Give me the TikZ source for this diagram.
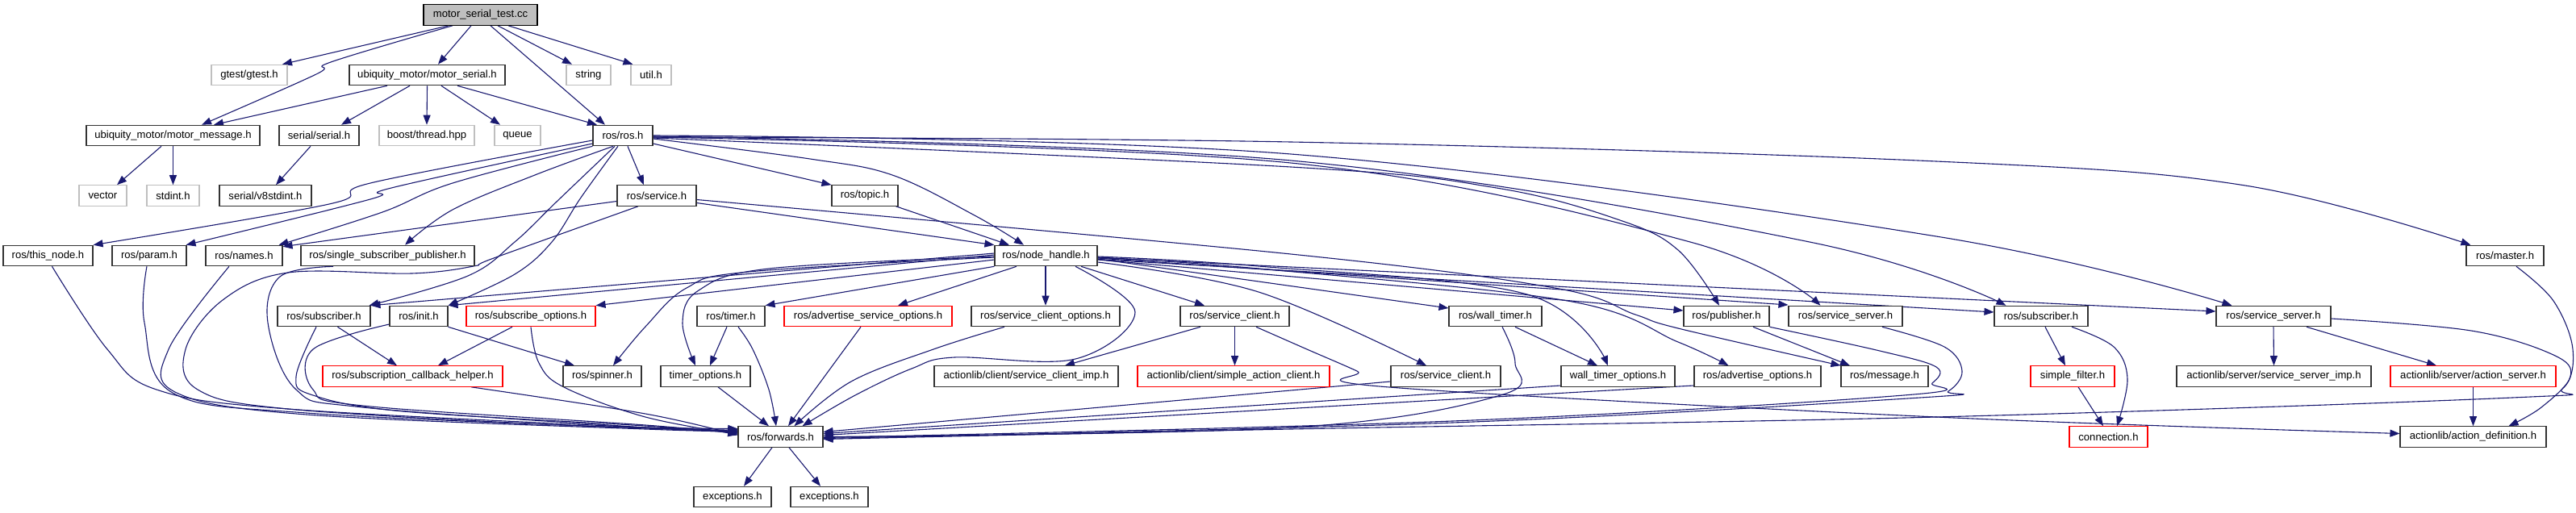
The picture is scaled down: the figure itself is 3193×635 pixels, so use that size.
\documentclass[tikz,border=0pt]{standalone}
\usepackage{fontspec}
\setmainfont{Liberation Sans}
\usetikzlibrary{arrows.meta}
\definecolor{edgec}{RGB}{25,25,112}
\newcommand\fs{\fontsize{13.1}{15}\selectfont}
\pgfdeclarelayer{bg}
\pgfsetlayers{bg,main}
\tikzset{
  nb/.style={draw=black!80, line width=1.1pt, fill=white, minimum height=25.5pt, inner sep=0pt, font=\fs},
  gb/.style={nb, draw=black!25},
  rb/.style={nb, draw=red},
  rootbox/.style={nb, draw=black, fill=black!25},
  e/.style={draw=edgec, line width=1.1pt, -{Triangle[length=12pt,width=9pt]}},
  sm/.style={smooth, tension=0.6}
}
\begin{document}
\begin{tikzpicture}[x=1pt,y=1pt]
\useasboundingbox (0,0) rectangle (3193,-635);
% row 0
\node[rootbox, minimum width=141pt] (test) at (595.5,-18.5) {motor\_serial\_test.cc};
% row 1
\node[gb, minimum width=94pt] (gtest) at (309,-93) {gtest/gtest.h};
\node[nb, minimum width=193pt] (mserial) at (529.5,-93) {ubiquity\_motor/motor\_serial.h};
\node[gb, minimum width=55pt] (string) at (729.5,-93) {string};
\node[gb, minimum width=50pt] (util) at (807,-93) {util.h};
% row 2
\node[nb, minimum width=215pt] (mmsg) at (214.5,-168) {ubiquity\_motor/motor\_message.h};
\node[nb, minimum width=99pt] (serial) at (395.5,-168) {serial/serial.h};
\node[gb, minimum width=118pt] (boost) at (529,-168) {boost/thread.hpp};
\node[gb, minimum width=57pt] (queue) at (641.5,-168) {queue};
\node[nb, minimum width=74pt] (ros) at (772,-168) {ros/ros.h};
% row 3
\node[gb, minimum width=59pt] (vector) at (127.5,-242.5) {vector};
\node[gb, minimum width=65pt] (stdint) at (214.5,-242.5) {stdint.h};
\node[nb, minimum width=114pt] (v8) at (329,-242.5) {serial/v8stdint.h};
\node[nb, minimum width=98pt] (service) at (814,-242.5) {ros/service.h};
\node[nb, minimum width=82pt] (topic) at (1072,-242.5) {ros/topic.h};
% row 4
\node[nb, minimum width=111pt] (thisnode) at (59.5,-317) {ros/this\_node.h};
\node[nb, minimum width=92pt] (param) at (185,-317) {ros/param.h};
\node[nb, minimum width=95pt] (names) at (302.5,-317) {ros/names.h};
\node[nb, minimum width=215pt] (sspub) at (480.5,-317) {ros/single\_subscriber\_publisher.h};
\node[nb, minimum width=127pt] (nh) at (1296.5,-317) {ros/node\_handle.h};
\node[nb, minimum width=96pt] (master) at (3105,-317) {ros/master.h};
% row 5
\node[nb, minimum width=115pt] (subL) at (401.5,-392) {ros/subscriber.h};
\node[nb, minimum width=72pt] (init) at (519,-392) {ros/init.h};
\node[rb, minimum width=160pt] (subopts) at (658,-392) {ros/subscribe\_options.h};
\node[nb, minimum width=84pt] (timer) at (906,-392) {ros/timer.h};
\node[rb, minimum width=208pt] (advsrvopts) at (1076,-392) {ros/advertise\_service\_options.h};
\node[nb, minimum width=184pt] (srvclopts) at (1296,-392) {ros/service\_client\_options.h};
\node[nb, minimum width=135pt] (sc1) at (1530.5,-392) {ros/service\_client.h};
\node[nb, minimum width=115pt] (walltimer) at (1853.5,-392) {ros/wall\_timer.h};
\node[nb, minimum width=106pt] (publisher) at (2140,-392) {ros/publisher.h};
\node[nb, minimum width=141pt] (ss1) at (2287.5,-392) {ros/service\_server.h};
\node[nb, minimum width=116pt] (sub2) at (2530,-392) {ros/subscriber.h};
\node[nb, minimum width=142pt] (ss2) at (2818,-392) {ros/service\_server.h};
% row 6
\node[rb, minimum width=223pt] (sch) at (511.5,-466.5) {ros/subscription\_callback\_helper.h};
\node[nb, minimum width=97pt] (spinner) at (746.5,-466.5) {ros/spinner.h};
\node[nb, minimum width=111pt] (timeropts) at (874.5,-466.5) {timer\_options.h};
\node[nb, minimum width=228pt] (scimp) at (1272,-466.5) {actionlib/client/service\_client\_imp.h};
\node[rb, minimum width=238pt] (sac) at (1529,-466.5) {actionlib/client/simple\_action\_client.h};
\node[nb, minimum width=136pt] (sc2) at (1792,-466.5) {ros/service\_client.h};
\node[nb, minimum width=141pt] (wto) at (2005.5,-466.5) {wall\_timer\_options.h};
\node[nb, minimum width=157pt] (advopts) at (2178.5,-466.5) {ros/advertise\_options.h};
\node[nb, minimum width=108pt] (message) at (2336,-466.5) {ros/message.h};
\node[rb, minimum width=104pt] (sfilter) at (2569,-466.5) {simple\_filter.h};
\node[nb, minimum width=241pt] (ssimp) at (2818.5,-466.5) {actionlib/server/service\_server\_imp.h};
\node[rb, minimum width=205pt] (aserver) at (3065.5,-466.5) {actionlib/server/action\_server.h};
% row 7
\node[nb, minimum width=105pt] (forwards) at (967.5,-541.5) {ros/forwards.h};
\node[rb, minimum width=97pt] (connection) at (2613.5,-541.5) {connection.h};
\node[nb, minimum width=181pt] (actdef) at (3065.5,-541.5) {actionlib/action\_definition.h};
% row 8
\node[nb, minimum width=96pt] (exc1) at (908,-616) {exceptions.h};
\node[nb, minimum width=96pt] (exc2) at (1028,-616) {exceptions.h};

\begin{pgfonlayer}{bg}
% root
\draw[e] ([xshift=-39.5pt]test.south) -- ([xshift=41pt]gtest.north);
\draw[e] plot[sm] coordinates {([xshift=-34.5pt]test.south) (410,-77) (392,-92) ([xshift=35.5pt]mmsg.north)};
\draw[e] ([xshift=-11.5pt]test.south) -- ([xshift=13.5pt]mserial.north);
\draw[e] ([xshift=12.5pt]test.south) -- ([xshift=-22pt]ros.north);
\draw[e] ([xshift=21.5pt]test.south) -- ([xshift=-20.5pt]string.north);
\draw[e] ([xshift=34.5pt]test.south) -- ([xshift=3pt]util.north west);
% motor_serial
\draw[e] ([xshift=-49.5pt]mserial.south) -- ([xshift=50.5pt]mmsg.north);
\draw[e] ([xshift=-21.5pt]mserial.south) -- ([xshift=27.5pt]serial.north);
\draw[e] (mserial.south) -- (boost.north);
\draw[e] ([xshift=17.5pt]mserial.south) -- ([xshift=-21.5pt]queue.north);
\draw[e] ([xshift=37.5pt]mserial.south) -- ([xshift=-32pt]ros.north);
\draw[e] ([xshift=-14.5pt]mmsg.south) -- ([xshift=17.5pt]vector.north);
\draw[e] (mmsg.south) -- (stdint.north);
\draw[e] ([xshift=-10.5pt]serial.south) -- ([xshift=13pt]v8.north);
% ros.h
\draw[e] plot[sm] coordinates {([yshift=-6pt]ros.west) (459,-227) (408,-253) (thisnode.north east)};
\draw[e] plot[sm] coordinates {([yshift=-10pt]ros.west) (485,-233) (459,-247) ([xshift=-1pt]param.north east)};
\draw[e] plot[sm] coordinates {(ros.south west) (561,-227) (474,-263) ([xshift=-5pt]names.north east)};
\draw[e] plot[sm] coordinates {([xshift=-12pt]ros.south) (663,-217) (561,-260) ([xshift=21.5pt]sspub.north)};
\draw[e] plot[sm] coordinates {([xshift=-10pt]ros.south) (690,-250) (638,-300) (580,-342) ([xshift=-2pt]subL.north east)};
\draw[e] plot[sm] coordinates {([xshift=-6pt]ros.south) (720,-245) (684,-300) (638,-340) (init.north east)};
\draw[e] ([xshift=6pt]ros.south) -- ([xshift=-16pt]service.north);
\draw[e] ([yshift=-10pt]ros.east) -- (topic.north west);
\draw[e] plot[sm] coordinates {([yshift=-4pt]ros.east) (1004,-197) (1106,-217) (1208,-267) ([xshift=-27.5pt]nh.north)};
\draw[e] plot[sm] coordinates {([yshift=-2pt]ros.east) (1600,-176) (2400,-200) (2783,-230) ([xshift=6pt]master.north west)};
\draw[e] plot[sm] coordinates {(ros.east) (1600,-191) (2400,-293) ([xshift=20pt]ss2.north west)};
\draw[e] plot[sm] coordinates {([yshift=-1pt]ros.east) (1600,-199) (2243,-300) ([xshift=15pt]sub2.north west)};
\draw[e] plot[sm] coordinates {([yshift=-2pt]ros.east) (1600,-202) (2095,-300) ([xshift=40pt]ss1.north west)};
\draw[e] plot[sm] coordinates {([yshift=-3pt]ros.east) (1600,-207) (1855,-233) (2008,-273) (2080,-310) ([xshift=-9pt]publisher.north)};
% service.h
\draw[e] ([yshift=-7pt]service.west) -- ([yshift=-2pt]names.north east);
\draw[e] ([yshift=-9pt]service.east) -- (nh.north west);
\draw[e] plot[sm] coordinates {([yshift=-5pt]service.east) (1600,-315) (1927,-357) (2027,-390) (2080,-407) (message.north west)};
\draw[e] plot[sm] coordinates {([xshift=-23pt]service.south) (612,-320) (587,-330) (510,-339) (357,-338) (276,-372) (230,-433) (245,-483) (357,-507) (700,-527) ([yshift=10pt]forwards.west)};
\draw[e] ([xshift=-3pt]topic.south east) -- ([xshift=-45.5pt]nh.north);
% into forwards from left
\draw[e] plot[sm] coordinates {([xshift=5pt]thisnode.south) (133,-433) (194,-483) (357,-507) (800,-530) ([yshift=9pt]forwards.west)};
\draw[e] plot[sm] coordinates {([xshift=-3pt]param.south) (179,-400) (214,-487) (380,-512) (800,-531) ([yshift=8pt]forwards.west)};
\draw[e] plot[sm] coordinates {([xshift=-18.5pt]names.south) (209,-433) (219,-487) (380,-514) (800,-532) ([yshift=7pt]forwards.west)};
\draw[e] plot[sm] coordinates {([xshift=-67.5pt]sspub.south) (347,-343) (332,-400) (367,-483) (450,-505) (800,-530) ([yshift=6pt]forwards.west)};
\draw[e] plot[sm] coordinates {([xshift=-9.5pt]subL.south) (367,-467) (388,-490) (500,-510) (800,-528) ([yshift=5pt]forwards.west)};
\draw[e] plot[sm] coordinates {([yshift=-10pt]init.west) (388,-433) (388,-483) (450,-503) (800,-527) ([yshift=4pt]forwards.west)};
\draw[e] plot[sm] coordinates {(subopts.south) (668,-450) (699,-480) (800,-517) ([yshift=3pt]forwards.west)};
\draw[e] plot[sm] coordinates {([xshift=72.5pt]sch.south) (800,-513) ([yshift=2pt]forwards.west)};
% into forwards from top
\draw[e] ([xshift=15.5pt]timeropts.south) -- ([xshift=-14.5pt]forwards.north);
\draw[e] plot[sm] coordinates {([xshift=9pt]timer.south) (933,-433) (953,-483) ([xshift=-5.5pt]forwards.north)};
\draw[e] ([xshift=-9pt]advsrvopts.south) -- ([xshift=9.5pt]forwards.north);
\draw[e] plot[sm] coordinates {([xshift=-51pt]srvclopts.south) (1157,-433) (1055,-473) ([xshift=17pt]forwards.north)};
\draw[e] plot[sm] coordinates {([xshift=36.5pt]nh.south) (1407,-387) (1333,-445) (1183,-443) (1130,-457) (1060,-490) ([xshift=27pt]forwards.north)};
% into forwards from right
\draw[e] ([yshift=-6.5pt]sc2.west) -- ([yshift=6pt]forwards.east);
\draw[e] ([yshift=-11.5pt]wto.west) -- ([yshift=4pt]forwards.east);
\draw[e] ([yshift=-11.5pt]advopts.west) -- ([yshift=2pt]forwards.east);
\draw[e] plot[sm] coordinates {([xshift=8.5pt]walltimer.south) (1878,-450) (1860,-490) (1600,-530) (forwards.east)};
\draw[e] plot[sm] coordinates {(publisher.south east) (2330,-435) (2400,-455) (2395,-475) (2360,-490) (1800,-522) ([yshift=-1pt]forwards.east)};
\draw[e] plot[sm] coordinates {([xshift=45.5pt]ss1.south) (2410,-430) (2432,-460) (2415,-485) (2380,-493) (1800,-524) ([yshift=-2pt]forwards.east)};
\draw[e] plot[sm] coordinates {([xshift=14pt]master.south) (3165,-373) (3189,-433) (3176,-482) (3114,-493) (2400,-517) (1600,-532) ([yshift=-3pt]forwards.east)};
% node_handle.h
\draw[e] ([yshift=3pt]nh.west) -- (subL.north east);
\draw[e] ([yshift=1pt]nh.west) -- (init.north east);
\draw[e] ([yshift=-5pt]nh.west) -- (subopts.north east);
\draw[e] plot[sm] coordinates {([yshift=-2pt]nh.west) (928,-337) (851,-357) (800,-405) ([xshift=13.5pt]spinner.north)};
\draw[e] (nh.south west) -- (timer.north east);
\draw[e] plot[sm] coordinates {([yshift=-1pt]nh.west) (953,-333) (866,-360) (846,-400) ([xshift=-12.5pt]timeropts.north)};
\draw[e] ([xshift=-5pt]timer.south) -- ([xshift=5.5pt]timeropts.north);
\draw[e] ([xshift=-36.5pt]nh.south) -- ([xshift=37pt]advsrvopts.north);
\draw[e] ([xshift=-0.5pt]nh.south) -- (srvclopts.north);
\draw[e] ([xshift=43.5pt]nh.south) -- ([xshift=-37.5pt]sc1.north);
\draw[e] ([xshift=-42.5pt]sc1.south) -- ([xshift=48pt]scimp.north);
\draw[e] (sc1.south) -- ([xshift=1.5pt]sac.north);
\draw[e] plot[sm] coordinates {([xshift=26.5pt]sc1.south) (1620,-433) (1682,-460) (1722,-480) (2400,-517) ([yshift=4pt]actdef.west)};
\draw[e] ([yshift=-4pt]nh.east) -- ([yshift=10pt]walltimer.west);
\draw[e] plot[sm] coordinates {([yshift=-8pt]nh.east) (1560,-362) ([xshift=-24pt]sc2.north)};
\draw[e] plot[sm] coordinates {([yshift=-1pt]nh.east) (1560,-330) (1893,-365) ([xshift=-12.5pt]wto.north)};
\draw[e] ([xshift=24.5pt]walltimer.south) -- ([xshift=-25.5pt]wto.north);
\draw[e] plot[sm] coordinates {([yshift=-2pt]nh.east) (1560,-333) (1943,-373) (2080,-424) ([xshift=-36pt]advopts.north)};
\draw[e] ([yshift=-5pt]nh.east) -- ([yshift=7pt]publisher.west);
\draw[e] ([yshift=-3pt]nh.east) -- ([yshift=14pt]ss1.west);
\draw[e] ([yshift=-4.5pt]nh.east) -- ([yshift=5pt]sub2.west);
\draw[e] ([yshift=-2.5pt]nh.east) -- ([yshift=6pt]ss2.west);
% lower right
\draw[e] ([xshift=33pt]publisher.south) -- ([xshift=-43pt]message.north);
\draw[e] ([xshift=5pt]sub2.south) -- ([xshift=-9pt]sfilter.north);
\draw[e] plot[sm] coordinates {([xshift=38pt]sub2.south) (2620,-430) (2637,-470) ([xshift=10.5pt]connection.north)};
\draw[e] ([xshift=7pt]sfilter.south) -- ([xshift=-6.5pt]connection.north);
\draw[e] (ss2.south) -- (ssimp.north);
\draw[e] ([xshift=41pt]ss2.south) -- ([xshift=-45.5pt]aserver.north);
\draw[e] plot[sm] coordinates {([yshift=-3pt]ss2.east) (3063,-410) (3165,-440) (3186,-467) (3150,-505) ([xshift=44pt]actdef.north)};
\draw[e] (aserver.south) -- (actdef.north);
% lower left
\draw[e] ([xshift=-10.5pt]forwards.south) -- ([xshift=14pt]exc1.north);
\draw[e] ([xshift=10.5pt]forwards.south) -- ([xshift=-11pt]exc2.north);
\draw[e] (init.south east) -- ([xshift=-34.5pt]spinner.north);
\draw[e] ([xshift=17pt]subL.south) -- ([xshift=-19.5pt]sch.north);
\draw[e] ([xshift=-23pt]subopts.south) -- ([xshift=31.5pt]sch.north);
\end{pgfonlayer}
\end{tikzpicture}
\end{document}
